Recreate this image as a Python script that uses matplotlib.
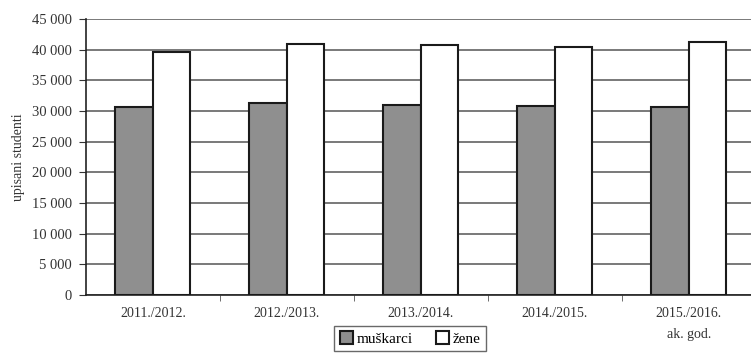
import numpy as np
import matplotlib.pyplot as plt

godine = ['2011./2012.', '2012./2013.', '2013./2014.', '2014./2015.', '2015./2016.\nak. god.']
muskarci = [30600, 31350, 30900, 30800, 30600]
zene = [39700, 41000, 40800, 40450, 41200]

plt.rcParams['font.family'] = ['Liberation Serif', 'DejaVu Serif']

fig = plt.figure(figsize=(7.51, 3.57), dpi=100)
ax = fig.add_axes([0.1145, 0.1737, 0.892, 0.773])

x = np.arange(len(godine))
w = 0.28
ax.bar(x - w / 2, muskarci, w, color='#8f8f8f', edgecolor='#1a1a1a', linewidth=1.5,
       label='muškarci', zorder=3)
ax.bar(x + w / 2, zene, w, color='white', edgecolor='#1a1a1a', linewidth=1.5,
       label='žene', zorder=3)

ax.set_ylim(0, 45000)
ax.set_xlim(-0.5, len(godine) - 0.5)
ax.set_yticks(range(0, 45001, 5000))
ax.set_yticklabels([f'{v:,}'.replace(',', ' ') for v in range(0, 45001, 5000)], fontsize=10.5,
                   color='#333333')
ax.yaxis.grid(True, color='#555555', linewidth=1.1, zorder=0)
ax.set_axisbelow(True)

# kategorije izmedju grupa
ax.set_xticks(x)
ax.set_xticklabels(godine, fontsize=10, color='#333333', va='top', linespacing=1.75)
ax.tick_params(axis='x', length=0, pad=9)
ax.set_xticks(np.arange(len(godine) - 1) + 0.5, minor=True)
ax.tick_params(axis='x', which='minor', length=4, color='#555555')
ax.tick_params(axis='y', length=5, color='#333333', pad=5)

for s in ['top', 'right']:
    ax.spines[s].set_visible(False)
ax.spines['left'].set_color('#222222')
ax.spines['bottom'].set_color('#222222')
ax.spines['left'].set_linewidth(1.2)
ax.spines['bottom'].set_linewidth(1.2)

ax.set_ylabel('upisani studenti', fontsize=10, color='#333333', labelpad=5)

leg = fig.legend(loc='lower center', bbox_to_anchor=(410 / 751, -0.005), ncol=2,
                 fontsize=11, frameon=True, fancybox=False, edgecolor='#444444',
                 handlelength=0.9, handleheight=0.9, handletextpad=0.2,
                 columnspacing=1.5, borderpad=0.35)
leg.get_frame().set_linewidth(1.0)

fig.savefig('out.png', dpi=100)
